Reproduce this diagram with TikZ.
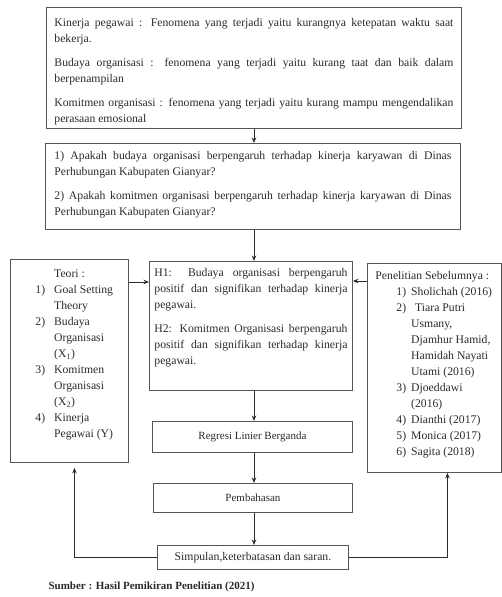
\documentclass[tikz,border=0pt]{standalone}
\usepackage{fontspec}
\setmainfont{Liberation Serif}
\usetikzlibrary{arrows.meta}
\definecolor{ink}{HTML}{2B2B2B}
\definecolor{edge}{HTML}{555555}
\hyphenpenalty=10000
\exhyphenpenalty=10000
\tolerance=5000
\tikzset{
  box/.style={draw=edge, line width=0.9pt, text=ink, inner sep=0pt, anchor=north west,
    font=\fontsize{11.7}{16}\selectfont},
  arr/.style={draw=ink, line width=0.9pt, -{Stealth[length=5.5pt,width=4.5pt]}},
}
\begin{document}
\begin{tikzpicture}[x=1pt,y=-1pt]
\useasboundingbox (0,0) rectangle (502,597);
\coordinate (spine) at (254,0);
% fenomena dan rumusan masalah
\node[box, inner xsep=8pt] (fenomena) at (46,7) {\parbox[c][121pt][t]{399pt}{\vspace*{7.8pt}\strut
Kinerja pegawai : Fenomena yang terjadi yaitu kurangnya ketepatan waktu saat bekerja.\par\vspace{8pt}
Budaya organisasi : fenomena yang terjadi yaitu kurang taat dan baik dalam berpenampilan\par\vspace{8pt}
Komitmen organisasi : fenomena yang terjadi yaitu kurang mampu mengendalikan perasaan emosional}};
\node[box, inner xsep=9pt] (masalah) at (45,143) {\parbox[c][86pt][t]{397pt}{\vspace*{4.8pt}\strut
1) Apakah budaya organisasi berpengaruh terhadap kinerja karyawan di Dinas Perhubungan Kabupaten Gianyar?\par\vspace{8pt}
2) Apakah komitmen organisasi berpengaruh terhadap kinerja karyawan di Dinas Perhubungan Kabupaten Gianyar?}};
% teori, hipotesis, penelitian sebelumnya
\node[box, inner xsep=10pt] (teori) at (10,259) {\parbox[c][203pt][t]{98pt}{\vspace*{6.8pt}%
\hspace*{15pt}\begin{tabular}[t]{@{}l@{\hspace{9pt}}l@{}}
 & Teori :\\
1) & Goal Setting\\
 & Theory\\
2) & Budaya\\
 & Organisasi\\
 & (X\textsubscript{1})\\
3) & Komitmen\\
 & Organisasi\\
 & (X\textsubscript{2})\\
4) & Kinerja\\
 & Pegawai (Y)
\end{tabular}}};
\node[box, inner xsep=5pt] (hipotesis) at (149,261) {\parbox[c][129pt][t]{193pt}{\vspace*{3.8pt}\strut
H1: Budaya organisasi berpengaruh positif dan signifikan terhadap kinerja pegawai.\par\vspace{8pt}
H2: Komitmen Organisasi berpengaruh positif dan signifikan terhadap kinerja pegawai.}};
\node[box, inner xsep=8pt] (penelitian) at (367,263) {\parbox[c][209pt][t]{118pt}{\vspace*{4.8pt}\strut
Penelitian Sebelumnya :\par
\hspace*{21pt}\begin{tabular}[t]{@{}l@{\hspace{5pt}}l@{}}
1) & Sholichah (2016)\\
2) & \hspace{4pt}Tiara Putri\\
 & Usmany,\\
 & Djamhur Hamid,\\
 & Hamidah Nayati\\
 & Utami (2016)\\
3) & Djoeddawi\\
 & (2016)\\
4) & Dianthi (2017)\\
5) & Monica (2017)\\
6) & Sagita (2018)
\end{tabular}}};
% analisis
\node[box, minimum width=200pt, minimum height=31pt, font=\fontsize{11}{14}\selectfont] (regresi) at (152,421) {Regresi Linier Berganda};
\node[box, minimum width=199pt, minimum height=29pt, font=\fontsize{11}{14}\selectfont] (bahas) at (153,483) {Pembahasan};
\node[box, minimum width=191pt, minimum height=24pt] (simpulan) at (157,545) {Simpulan,keterbatasan dan saran.};
\node[anchor=base west, text=ink, font=\fontsize{11}{13}\selectfont\bfseries] (sumber) at (45,589) {Sumber : Hasil Pemikiran Penelitian (2021)};
% alur
\draw[arr] (spine |- fenomena.south) -- (spine |- masalah.north);
\draw[arr] (spine |- masalah.south) -- (spine |- hipotesis.north);
\draw[arr] (spine |- hipotesis.south) -- (spine |- regresi.north);
\draw[arr] (spine |- regresi.south) -- (spine |- bahas.north);
\draw[arr] (spine |- bahas.south) -- (spine |- simpulan.north);
\draw[arr] ([yshift=-23pt]teori.north east) -- ([yshift=-23pt]teori.north east -| hipotesis.west);
\draw[arr] ([yshift=-18pt]penelitian.north west) -- ([yshift=-18pt]penelitian.north west -| hipotesis.east);
\draw[arr] (simpulan.west) -| ([xshift=5pt,yshift=-5pt]teori.south);
\draw[arr] (simpulan.east) -| ([xshift=13pt]penelitian.south);
\end{tikzpicture}
\end{document}
